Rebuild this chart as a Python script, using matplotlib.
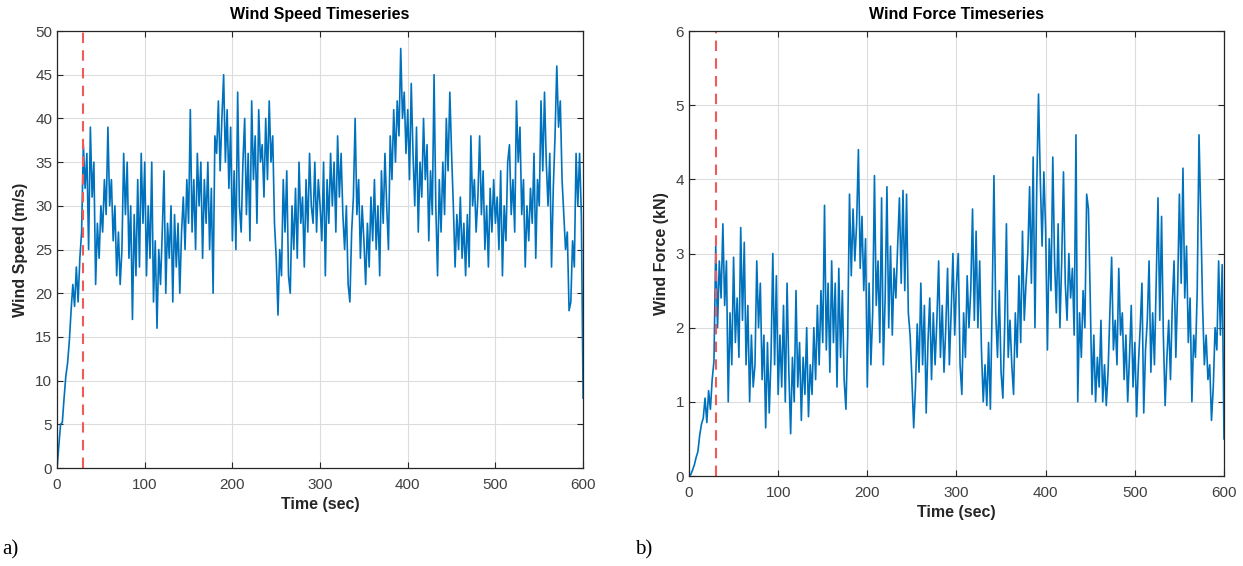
import numpy as np
import matplotlib
matplotlib.use("Agg")
import matplotlib.pyplot as plt

time_s = np.arange(0, 601, 2)

wind_speed = [
    0, 2.5, 5, 5.2, 8, 10.5, 12, 14.5, 18, 21,
    18.5, 23, 19, 24, 27, 37, 32, 36, 25, 39,
    31, 35, 21, 28, 24, 30, 27, 33, 29, 39,
    30, 33, 26, 30, 22, 27, 21, 25, 36, 29,
    35, 24, 30, 17, 29, 22, 33, 23, 36, 28,
    35, 22, 30, 24, 35, 19, 26, 16, 25, 21,
    27, 34, 20, 28, 24, 30, 19, 29, 23, 28,
    20, 27, 31, 25, 33, 28, 41, 27, 33, 25,
    36, 30, 35, 24, 33, 28, 35, 25, 32, 20,
    38, 36, 42, 34, 40, 45, 35, 41, 32, 39,
    26, 34, 25, 43, 30, 27, 35, 40, 29, 36,
    26, 42, 33, 38, 28, 41, 35, 37, 31, 40,
    33, 42, 35, 38, 28, 24, 17.5, 25, 22, 33,
    27, 34, 22, 20, 30, 25, 32, 24, 35, 28,
    31, 23, 33, 27, 36, 30, 28, 35, 27, 33,
    30, 26, 35, 22, 33, 28, 36, 30, 35, 27,
    38, 31, 36, 29, 25, 30, 21, 19, 27, 31,
    40, 29, 33, 24, 30, 26, 21, 28, 23, 31,
    26, 33, 25, 30, 22, 34, 28, 36, 30, 25,
    38, 33, 41, 35, 42, 38, 48, 40, 43, 36,
    41, 33, 44, 36, 30, 39, 27, 35, 31, 40,
    33, 37, 26, 34, 29, 45, 30, 22, 33, 27,
    35, 29, 40, 34, 43, 36, 30, 23, 29, 25,
    31, 24, 28, 22, 29, 23, 38, 30, 33, 27,
    31, 38, 29, 34, 25, 30, 23, 32, 27, 33,
    28, 31, 25, 34, 22, 30, 26, 35, 37, 29,
    33, 27, 42, 35, 39, 29, 33, 23, 30, 26,
    32, 28, 36, 24, 33, 30, 42, 34, 43, 35,
    30, 36, 23, 32, 38, 46, 39, 42, 33, 29,
    25, 27, 18, 19, 26, 23, 36, 30, 36, 29,
    8,
]

wind_force = [
    0, 0.02, 0.08, 0.15, 0.25, 0.33, 0.55, 0.7, 0.78, 1.05,
    0.72, 1.15, 0.9, 1.3, 1.55, 3.1, 2.0, 2.9, 2.4, 3.4,
    2.3, 2.9, 1.0, 2.2, 1.5, 2.95, 1.8, 2.4, 1.6, 3.35,
    2.1, 3.15, 1.5, 2.3, 1.0, 1.9, 1.2, 1.5, 2.9, 2.0,
    2.6, 1.3, 1.9, 0.65, 1.8, 0.85, 1.6, 3.0, 1.5, 2.7,
    1.1, 1.9, 1.2, 2.3, 1.0, 2.6, 1.4, 0.57, 1.6, 1.0,
    2.5, 1.2, 1.8, 0.75, 1.6, 1.1, 2.0, 0.8, 1.5, 1.1,
    2.0, 1.3, 2.3, 1.5, 2.5, 1.8, 3.65, 1.7, 2.6, 1.4,
    2.9, 1.8, 2.6, 1.2, 2.8, 1.6, 2.5, 1.3, 0.9, 1.9,
    3.8, 2.7, 3.6, 2.9, 3.4, 4.4, 2.8, 3.5, 2.5, 3.2,
    1.2, 2.6, 1.5, 2.2, 4.05, 2.3, 2.9, 1.8, 3.75, 1.5,
    2.4, 3.9, 2.0, 3.1, 1.9, 2.8, 2.4, 3.1, 3.75, 2.6,
    3.85, 2.5, 3.8, 2.2, 1.9, 1.3, 0.65, 1.2, 2.05, 1.4,
    2.6, 1.5, 2.3, 0.85, 1.8, 2.4, 1.3, 2.2, 1.5, 2.1,
    2.9, 1.6, 2.3, 1.4, 2.0, 2.8, 1.5, 2.2, 3.0, 1.9,
    2.6, 3.0, 1.5, 1.1, 2.2, 1.6, 2.7, 2.0, 2.5, 3.6,
    2.1, 3.3, 2.0, 2.9, 1.7, 1.0, 1.5, 0.95, 1.8, 0.9,
    2.3, 4.05, 2.2, 1.6, 2.5, 1.4, 1.05, 2.0, 3.4, 1.6,
    2.1, 1.5, 1.1, 2.2, 1.6, 2.7, 1.8, 3.3, 2.1, 2.6,
    3.0, 3.9, 2.6, 4.3, 2.0, 3.9, 5.15, 4.0, 3.1, 4.1,
    3.3, 1.7, 3.2, 2.5, 4.3, 2.9, 2.2, 3.4, 2.0, 2.9,
    4.1, 2.6, 2.1, 3.0, 2.4, 2.8, 1.9, 4.6, 1.0, 2.2,
    1.6, 2.5, 2.0, 3.8, 3.6, 2.4, 1.1, 1.9, 1.0, 1.6,
    1.2, 2.1, 1.0, 1.5, 0.95, 1.4, 2.2, 2.95, 1.7, 2.1,
    1.5, 2.8, 1.9, 2.2, 1.3, 1.9, 1.0, 1.6, 2.3, 1.2,
    1.8, 0.8, 1.5, 2.0, 2.6, 0.85, 1.7, 2.1, 2.9, 1.4,
    2.2, 1.5, 2.6, 3.75, 2.1, 3.5, 1.9, 0.95, 1.6, 2.1,
    1.3, 2.3, 2.9, 1.6, 2.5, 3.8, 2.6, 4.15, 2.4, 3.1,
    1.8, 2.4, 1.0, 1.9, 1.6, 2.5, 4.6, 3.5, 2.3, 1.5,
    1.9, 1.3, 1.5, 0.75, 1.2, 2.0, 1.7, 2.9, 1.9, 2.85,
    0.5,
]

marker_time = 30  # red dashed line

plt.rcParams["font.family"] = ["Liberation Sans", "DejaVu Sans"]
INK = "#262626"
BLUE = "#0072BD"


def style(ax, ylabel, title):
    ax.set_xlim(0, 600)
    ax.set_xticks(range(0, 601, 100))
    ax.grid(True, color="#dcdcdc", lw=0.8)
    ax.set_axisbelow(True)
    ax.tick_params(direction="in", top=True, right=True, length=4,
                   labelsize=11, colors=INK, labelcolor="#404040")
    ax.tick_params(axis="x", pad=7)
    for s in ax.spines.values():
        s.set_color(INK)
        s.set_linewidth(0.9)
    ax.set_xlabel("Time (sec)", fontsize=11.5, fontweight="bold", color=INK, labelpad=4)
    ax.set_ylabel(ylabel, fontsize=11.5, fontweight="bold", color=INK, labelpad=5)
    ax.set_title(title, fontsize=11.5, fontweight="bold", color="black", pad=9)


fig = plt.figure(figsize=(12.43, 5.66), dpi=100)
ax1 = fig.add_axes([0.0459, 0.1731, 0.4232, 0.7721])
ax2 = fig.add_axes([0.5543, 0.1590, 0.4304, 0.7862])

ax1.plot(time_s, wind_speed, color=BLUE, lw=1.2)
ax1.axvline(marker_time, color="#f25a5a", lw=1.5, ls=(0, (5, 3.5)))
ax1.set_ylim(0, 50)
ax1.set_yticks(range(0, 51, 5))
style(ax1, "Wind Speed (m/s)", "Wind Speed Timeseries")

ax2.plot(time_s, wind_force, color=BLUE, lw=1.2)
ax2.axvline(marker_time, color="#f25a5a", lw=1.5, ls=(0, (5, 3.5)))
ax2.set_ylim(0, 6)
ax2.set_yticks(range(0, 7))
style(ax2, "Wind Force (kN)", "Wind Force Timeseries")

fig.text(0.002, 0.02, "a)", family="Liberation Serif", fontsize=15)
fig.text(0.511, 0.02, "b)", family="Liberation Serif", fontsize=15)

fig.savefig("out.png", dpi=100)
